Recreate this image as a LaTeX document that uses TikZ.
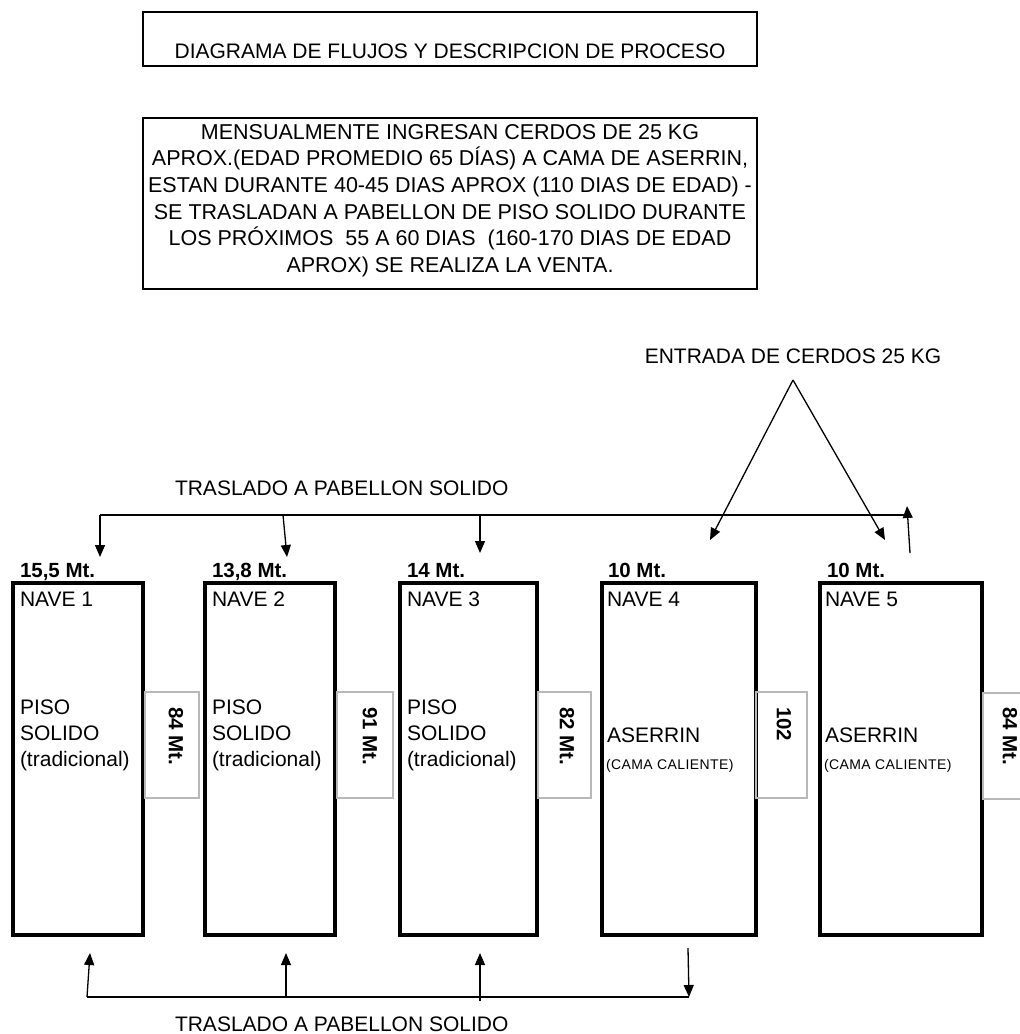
\documentclass[tikz,border=0pt]{standalone}
\usepackage{fontspec}
\setmainfont{Liberation Sans}
\usetikzlibrary{arrows.meta}
\begin{document}
\begin{tikzpicture}[x=1pt,y=-1pt,
  every node/.style={inner sep=0pt, outer sep=0pt},
  txt/.style={font=\fontsize{21}{26}\selectfont},
  small/.style={font=\fontsize{14}{16}\selectfont\addfontfeatures{LetterSpace=3}},
  mt/.style={font=\fontsize{20.5}{24}\selectfont\bfseries, anchor=base west},
  sidetxt/.style={font=\fontsize{20.5}{24}\selectfont\bfseries, rotate=-90, anchor=west},
  nave/.style={draw, line width=3.2pt, anchor=north west, minimum width=#1, minimum height=352pt},
  sidebox/.style={draw=black!28, line width=1.1pt, anchor=north west, minimum width=#1, minimum height=106pt},
  frame/.style={draw, line width=1.8pt, anchor=north west, minimum width=614pt},
  conn/.style={line width=1.3pt},
  arr/.style={line width=1.3pt, -{Triangle[length=12pt,width=10pt]}}
]
\useasboundingbox (0,0) rectangle (1020,1034);

% title and description
\node[frame, minimum height=54pt] (title) at (143,12) {};
\node[txt, anchor=base] (titletxt) at (450,58) {DIAGRAMA DE FLUJOS Y DESCRIPCION DE PROCESO};
\node[frame, minimum height=171pt] (desc) at (143,118) {};
\node[anchor=north, align=center, font=\fontsize{21.5}{26.7}\selectfont] (desctxt) at (450,124) {%
MENSUALMENTE INGRESAN CERDOS DE 25 KG\\
APROX.(EDAD PROMEDIO 65 DÍAS) A CAMA DE ASERRIN,\\
ESTAN DURANTE 40-45 DIAS APROX (110 DIAS DE EDAD) -\\
SE TRASLADAN A PABELLON DE PISO SOLIDO DURANTE\\
LOS PRÓXIMOS\ \ 55 A 60 DIAS\ \ (160-170 DIAS DE EDAD\\
APROX) SE REALIZA LA VENTA.};

% naves
\node[nave=130pt] (n1) at (13,583) {};
\node[nave=130pt] (n2) at (205,583) {};
\node[nave=137pt] (n3) at (400,583) {};
\node[nave=154pt] (n4) at (602,583) {};
\node[nave=162pt] (n5) at (820,583) {};

\node[mt] (m1) at (20,577) {15,5 Mt.};
\node[mt] (m2) at (212,577) {13,8 Mt.};
\node[mt] (m3) at (407,577) {14 Mt.};
\node[mt] (m4) at (608,577) {10 Mt.};
\node[mt] (m5) at (827,577) {10 Mt.};

\node[txt, anchor=base west] (l1) at (20,606) {NAVE 1};
\node[txt, anchor=base west] (l2) at (212,606) {NAVE 2};
\node[txt, anchor=base west] (l3) at (407,606) {NAVE 3};
\node[txt, anchor=base west] (l4) at (607,606) {NAVE 4};
\node[txt, anchor=base west] (l5) at (825,606) {NAVE 5};

\node[txt, anchor=north west, align=left] (p1) at (20,700) {PISO\\SOLIDO\\(tradicional)};
\node[txt, anchor=north west, align=left] (p2) at (212,700) {PISO\\SOLIDO\\(tradicional)};
\node[txt, anchor=north west, align=left] (p3) at (407,700) {PISO\\SOLIDO\\(tradicional)};
\node[txt, anchor=base west] (a4) at (607,742) {ASERRIN};
\node[small, anchor=base west] (c4) at (606,769) {(CAMA CALIENTE)};
\node[txt, anchor=base west] (a5) at (825,742) {ASERRIN};
\node[small, anchor=base west] (c5) at (824,769) {(CAMA CALIENTE)};

% side measurement boxes
\node[sidebox=54pt] (s1) at (145,692) {};
\node[sidebox=56pt] (s2) at (337,692) {};
\node[sidebox=53pt] (s3) at (538,692) {};
\node[sidebox=51pt] (s4) at (756,692) {};
\node[sidebox=54pt] (s5) at (983,693) {};
\node[sidetxt] (st1) at (176,707) {84 Mt.};
\node[sidetxt] (st2) at (370,707) {91 Mt.};
\node[sidetxt] (st3) at (567,707) {82 Mt.};
\node[sidetxt] (st4) at (784,707) {102};
\node[sidetxt] (st5) at (1010,707) {84 Mt.};

% entrada de cerdos
\node[txt, anchor=base] (entrada) at (793,363) {ENTRADA DE CERDOS 25 KG};
\coordinate (apex) at (793,380);
\coordinate (in4) at (710,540);
\coordinate (in5) at (885,540);
\draw[arr] (apex) -- (in4);
\draw[arr] (apex) -- (in5);

% top traslado
\node[txt, anchor=base west] (trastop) at (175,495) {TRASLADO A PABELLON SOLIDO};
\coordinate (ta) at (100,515);
\coordinate (tb) at (283,515);
\coordinate (tc) at (480,515);
\coordinate (td) at (907,515);
\coordinate (taT) at (100,557);
\coordinate (tbT) at (287,557);
\coordinate (tcT) at (480,553);
\coordinate (teS) at (910,553);
\coordinate (teT) at (907,506);
\draw[conn] (ta) -- (td);
\draw[arr] (ta) -- (taT);
\draw[arr] (tb) -- (tbT);
\draw[arr] (tc) -- (tcT);
\draw[arr] (teS) -- (teT);

% bottom traslado
\node[txt, anchor=base west] (trasbot) at (175,1031) {TRASLADO A PABELLON SOLIDO};
\coordinate (ba) at (87,997);
\coordinate (bb) at (286,997);
\coordinate (bc) at (480,1001);
\coordinate (bd) at (689,997);
\coordinate (baT) at (90,953);
\coordinate (bbT) at (286,953);
\coordinate (bcT) at (480,953);
\coordinate (bdS) at (688,948);
\draw[conn] (ba) -- (bd);
\draw[arr] (ba) -- (baT);
\draw[arr] (bb) -- (bbT);
\draw[arr] (bc) -- (bcT);
\draw[arr] (bdS) -- (bd);
\end{tikzpicture}
\end{document}
